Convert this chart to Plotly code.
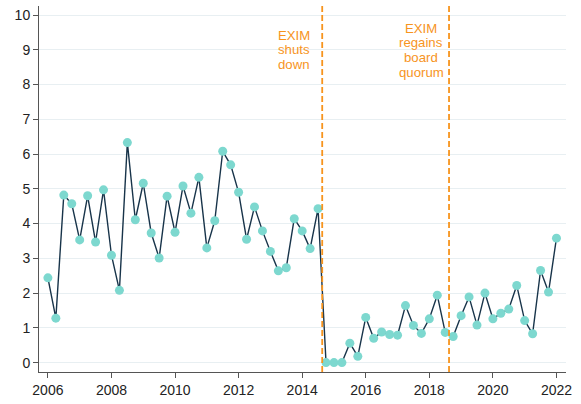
import plotly.graph_objects as go

# Quarterly observations, 2006Q1 .. 2022Q1
years = [2006, 2007, 2008, 2009, 2010, 2011, 2012, 2013, 2014, 2015,
         2016, 2017, 2018, 2019, 2020, 2021, 2022]
values = [
    2.44, 1.28, 4.82, 4.57,   # 2006
    3.53, 4.80, 3.47, 4.97,   # 2007
    3.09, 2.08, 6.33, 4.11,   # 2008
    5.16, 3.73, 3.01, 4.79,   # 2009
    3.75, 5.08, 4.30, 5.33,   # 2010
    3.30, 4.08, 6.08, 5.69,   # 2011
    4.90, 3.55, 4.48, 3.79,   # 2012
    3.20, 2.64, 2.73, 4.14,   # 2013
    3.79, 3.28, 4.43, 0.00,   # 2014
    0.00, 0.00, 0.56, 0.18,   # 2015
    1.30, 0.70, 0.88, 0.81,   # 2016
    0.79, 1.64, 1.07, 0.84,   # 2017
    1.26, 1.94, 0.87, 0.75,   # 2018
    1.35, 1.89, 1.08, 2.00,   # 2019
    1.26, 1.42, 1.54, 2.22,   # 2020
    1.21, 0.83, 2.65, 2.03,   # 2021
    3.58,                     # 2022
]
x_vals = [years[0] + i / 4 for i in range(len(values))]

event_x = [2014.63, 2018.62]
event_label_x = [2013.74, 2017.74]
event_lines = [["EXIM", "shuts", "down"], ["EXIM", "regains", "board", "quorum"]]
event_label_y = [[9.42, 9.01, 8.59], [9.62, 9.20, 8.78, 8.36]]

x_ticks = [2006, 2008, 2010, 2012, 2014, 2016, 2018, 2020, 2022]
y_ticks = list(range(0, 11))

ORANGE = "#F7941D"
FONT = "Liberation Sans, Arial, Helvetica, sans-serif"

fig = go.Figure()
fig.add_trace(go.Scatter(
    x=x_vals, y=values, mode="lines+markers",
    line=dict(color="#18344A", width=1.4),
    marker=dict(color="#7DD8CF", size=9, line=dict(width=0)),
    showlegend=False, hoverinfo="x+y",
))

shapes = []
for ex in event_x:
    shapes.append(dict(type="line", xref="x", yref="paper", x0=ex, x1=ex, y0=0, y1=1,
                       line=dict(color=ORANGE, width=1.8, dash="6px,3px")))

annotations = []
for lx, lines, ys in zip(event_label_x, event_lines, event_label_y):
    for txt, yy in zip(lines, ys):
        annotations.append(dict(x=lx, y=yy, xref="x", yref="y", text=txt, showarrow=False,
                                xanchor="center", yanchor="middle", borderpad=0,
                                font=dict(color=ORANGE, size=13.2, family=FONT)))

fig.update_layout(
    width=581, height=404,
    margin=dict(l=39, r=15, t=6, b=26),
    paper_bgcolor="white", plot_bgcolor="white",
    font=dict(family=FONT, size=14, color="#222222"),
    shapes=shapes, annotations=annotations,
    xaxis=dict(range=[2005.72, 2022.3], tickvals=x_ticks, ticktext=[str(t) for t in x_ticks],
               showgrid=False, zeroline=False, showline=True, linecolor="#555555", linewidth=1,
               ticks="outside", ticklen=5, tickcolor="#555555"),
    yaxis=dict(range=[-0.27, 10.26], tickvals=y_ticks, showgrid=True, gridcolor="#E8EFF2",
               gridwidth=1, zeroline=False, showline=True, linecolor="#555555", linewidth=1,
               ticks="outside", ticklen=5, tickcolor="#555555"),
)

fig.write_html("out.html", config={"displayModeBar": False},
               post_script="document.body.style.margin='0';")
